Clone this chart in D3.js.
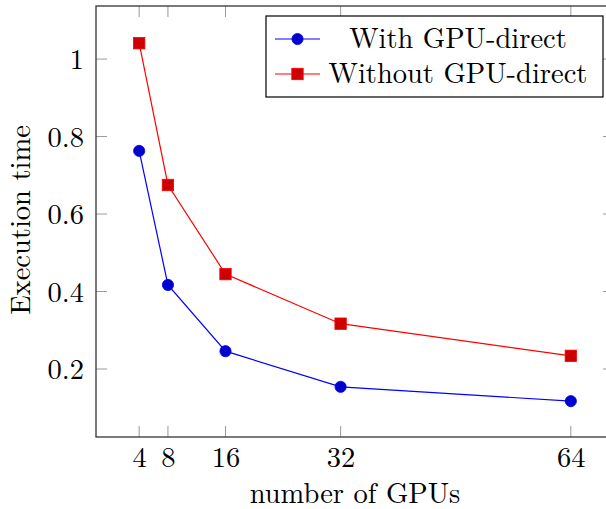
<!DOCTYPE html>
<html><head><meta charset="utf-8">
<script src="https://cdn.jsdelivr.net/npm/d3@7"></script>
<style>body{margin:0;background:#fff}svg{display:block}</style>
</head><body><svg id="c" width="606" height="509"></svg>
<script>
const gpus = [4, 8, 16, 32, 64];
const withDirect = [0.763, 0.417, 0.246, 0.154, 0.117];
const withoutDirect = [1.041, 0.675, 0.445, 0.317, 0.234];
const yTicks = [0.2, 0.4, 0.6, 0.8, 1];
const seriesNames = ["With GPU-direct", "Without GPU-direct"];

const FONT = "Latin Modern Roman";
const svg = d3.select("#c");
const L = 96, R = 614, T = 6, B = 437;
const x = d3.scaleLinear().domain([-2, 70]).range([L, R]);
const y = d3.scaleLinear().domain([0.0245, 1.137]).range([B, T]);
const FS = 28.5;

const tickLen = 11;
const gt = svg.append("g").attr("stroke", "#9a9a9a").attr("stroke-width", 1);
gpus.forEach(v => {
  gt.append("line").attr("x1", x(v)).attr("x2", x(v)).attr("y1", B).attr("y2", B - tickLen);
  gt.append("line").attr("x1", x(v)).attr("x2", x(v)).attr("y1", T).attr("y2", T + tickLen);
});
yTicks.forEach(v => {
  gt.append("line").attr("x1", L).attr("x2", L + tickLen).attr("y1", y(v)).attr("y2", y(v));
  gt.append("line").attr("x1", R).attr("x2", R - tickLen).attr("y1", y(v)).attr("y2", y(v));
});

const xAxis = d3.axisBottom(x).tickValues(gpus).tickSize(0).tickPadding(0).tickFormat(d3.format("d"));
const gx = svg.append("g").attr("transform", `translate(0,${B})`).call(xAxis);
gx.select(".domain").remove();
gx.attr("font-family", FONT).attr("font-size", FS);
gx.selectAll("text").attr("dy", null).attr("y", 30).attr("fill", "#000");

const yAxis = d3.axisLeft(y).tickValues(yTicks).tickSize(0).tickPadding(0).tickFormat(d => d === 1 ? "1" : d3.format(".1f")(d));
const gy = svg.append("g").attr("transform", `translate(${L - 12},0)`).call(yAxis);
gy.select(".domain").remove();
gy.attr("font-family", FONT).attr("font-size", FS);
gy.selectAll("text").attr("dy", null).attr("y", 9.5).attr("x", 0).attr("fill", "#000");

svg.append("rect").attr("x", L).attr("y", T).attr("width", R - L).attr("height", B - T)
  .attr("fill", "none").attr("stroke", "#333").attr("stroke-width", 1.3);

const line = d3.line().x((d, i) => x(gpus[i])).y(d => y(d));
const series = [
  {name: seriesNames[0], vals: withDirect, stroke: "#0000ff", fill: "#0000cc", mark: "circle"},
  {name: seriesNames[1], vals: withoutDirect, stroke: "#ff0000", fill: "#cc0000", mark: "square"}
];
function mark(g, s, cx, cy) {
  if (s.mark === "circle") {
    g.append("circle").attr("cx", cx).attr("cy", cy).attr("r", 5.6)
      .attr("fill", s.fill).attr("stroke", s.stroke).attr("stroke-width", 0.8);
  } else {
    g.append("rect").attr("x", cx - 5.7).attr("y", cy - 5.7).attr("width", 11.4).attr("height", 11.4)
      .attr("fill", s.fill).attr("stroke", s.stroke).attr("stroke-width", 0.8);
  }
}
series.forEach(s => {
  svg.append("path").attr("d", line(s.vals)).attr("fill", "none").attr("stroke", s.stroke).attr("stroke-width", 1.2);
  const g = svg.append("g");
  s.vals.forEach((v, i) => mark(g, s, x(gpus[i]), y(v)));
});

const lg = svg.append("g");
lg.append("rect").attr("x", 266).attr("y", 16).attr("width", 337).attr("height", 81)
  .attr("fill", "#fff").attr("stroke", "#000").attr("stroke-width", 1.2);
const rows = [39, 74];
series.forEach((s, i) => {
  const ry = rows[i];
  lg.append("line").attr("x1", 275).attr("x2", 320).attr("y1", ry).attr("y2", ry)
    .attr("stroke", s.stroke).attr("stroke-width", 1.2);
  mark(lg, s, 297.5, ry);
  lg.append("text").attr("x", 458).attr("y", ry + 8.5).attr("text-anchor", "middle")
    .attr("font-family", FONT).attr("font-size", FS).text(s.name);
});

svg.append("text").attr("x", (L + R) / 2).attr("y", 503).attr("text-anchor", "middle")
  .attr("font-family", FONT).attr("font-size", FS).text("number of GPUs");
svg.append("text").attr("transform", "translate(29.5,220) rotate(-90)").attr("text-anchor", "middle")
  .attr("font-family", FONT).attr("font-size", FS).text("Execution time");
</script></body></html>
